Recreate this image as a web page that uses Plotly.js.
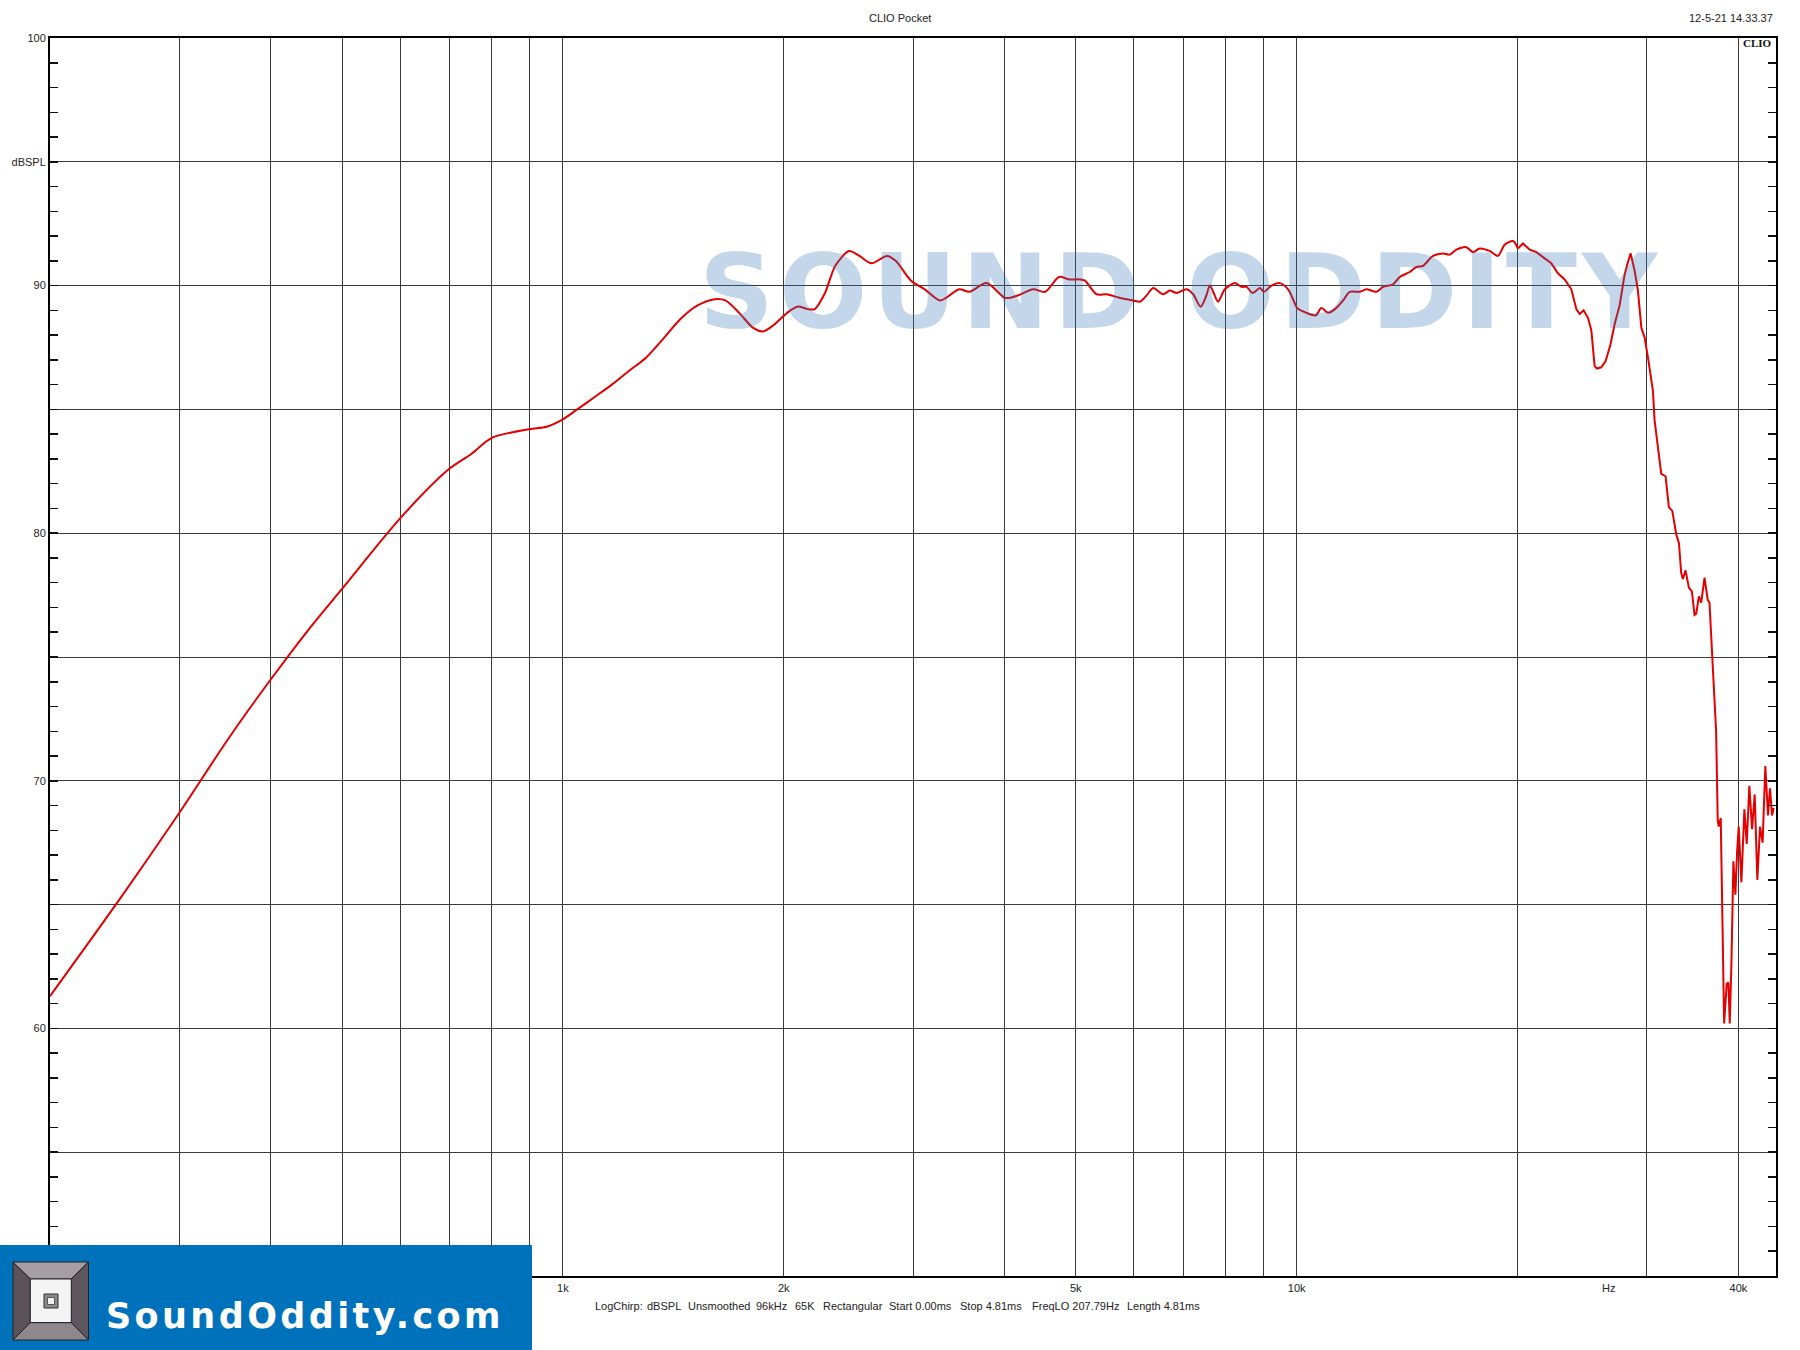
<!DOCTYPE html>
<html>
<head>
<meta charset="utf-8">
<script src="https://cdn.plot.ly/plotly-3.0.1.min.js"></script>
<style>
html,body{margin:0;padding:0;background:#fff;}
#chart{width:1800px;height:1350px;}
#chart .gridlayer path{shape-rendering:crispEdges !important;}
</style>
</head>
<body>
<div id="chart"></div>
<script>
// ---------------- data ----------------
const freqHz = [
 200,250,300,350,400,450,500,600,700,750,
 800,900,950,1000,1046,1105,1166,1230,1299,1370,
 1446,1526,1611,1665,1739,1815,1874,1936,2021,2087,
 2157,2204,2276,2351,2455,2536,2633,2765,2841,2982,
 3113,3268,3467,3581,3779,4011,4167,4374,4542,4743,
 4898,5066,5145,5338,5508,5745,5987,6114,6243,6374,
 6577,6717,6860,7079,7227,7396,7521,7615,7696,7815,
 7982,8236,8411,8544,8707,8908,9021,9240,9485,9735,
 9888,10013,10311,10617,10807,11036,11330,11568,11813,12190,
 12445,12843,13114,13532,13818,14257,14559,14866,15339,15828,
 16163,16506,17031,17390,17758,18323,18806,19204,19713,20026,
 20342,20773,21214,21660,22233,22699,23186,23677,24051,24302,
 24606,24943,25208,25471,25654,26010,26366,26758,27124,27548,
 27989,28281,28517,28880,29180,29491,29798,30109,30584,30746,
 31066,31394,31823,32155,32497,32910,33185,33420,33595,33880,
 34236,34560,34850,35035,35326,35587,35957,36330,36522,36831,
 37095,37290,37480,37600,37835,38000,38240,38554,38760,38920,
 39126,39370,39616,39830,40032,40367,40750,41050,41390,41745,
 42090,42440,42800,43150,43520,43880,44160,44440,44665
];
const splDb = [
 61.3,65.3,68.7,71.7,74.1,76.1,77.75,80.6,82.6,83.2,
 83.85,84.2,84.3,84.6,85.0,85.5,86.0,86.55,87.1,87.85,
 88.65,89.2,89.45,89.4,88.9,88.3,88.15,88.4,88.9,89.15,
 89.05,89.05,89.7,90.8,91.4,91.2,90.9,91.2,91.0,90.2,
 89.85,89.4,89.85,89.75,90.1,89.5,89.6,89.85,89.75,90.35,
 90.25,90.25,90.2,89.65,89.65,89.5,89.4,89.35,89.6,89.9,
 89.65,89.8,89.7,89.85,89.65,89.15,89.55,90.0,89.75,89.35,
 89.85,90.1,89.95,89.95,89.7,89.9,89.75,90.0,90.1,89.85,
 89.45,89.1,88.9,88.8,89.1,88.9,89.1,89.4,89.75,89.75,
 89.85,89.75,89.95,90.05,90.35,90.55,90.75,90.8,91.2,91.3,
 91.25,91.45,91.55,91.35,91.5,91.4,91.2,91.65,91.8,91.5,
 91.7,91.45,91.35,91.15,90.9,90.5,90.25,89.85,89.05,88.85,
 89.0,88.7,88.2,86.75,86.65,86.7,86.95,87.6,88.45,89.2,
 90.45,90.95,91.3,90.6,89.8,88.3,87.9,87.1,85.75,84.55,
 83.45,82.4,82.3,81.05,80.9,79.95,79.6,78.4,78.15,78.5,
 77.8,77.65,76.7,76.75,77.45,77.2,78.2,77.3,77.2,75.1,
 73.2,72.0,68.4,68.15,68.5,65.15,60.2,61.8,61.85,60.2,
 62.6,66.75,65.4,67.15,68.15,65.9,68.85,67.45,69.8,68.05,
 69.45,66.0,68.15,67.5,70.6,68.6,69.7,68.6,68.9
];
const xGridFreqs = [300,400,500,600,700,800,900,1000,2000,3000,4000,5000,6000,7000,8000,9000,10000,20000,30000,40000];
const xTickLabels = ['','','','','','','','1k','2k','','','5k','','','','','10k','','','40k'];
const yGridVals = [55,60,65,70,75,80,85,90,95,100];
const yTickLabels = ['','60','','70','','80','','90','dBSPL','100'];
const xUnitLabel = 'Hz';
const chartTitle = 'CLIO Pocket';
const dateStamp = '12-5-21 14.33.37';
const brandTag = 'CLIO';
const watermarkText = 'SOUND ODDITY';
const siteText = 'SoundOddity.com';
const infoItems = ['LogChirp:','dBSPL','Unsmoothed','96kHz','65K','Rectangular','Start 0.00ms','Stop 4.81ms','FreqLO 207.79Hz','Length 4.81ms'];

// ---------------- layout helpers ----------------
const L = 50, R = 1776, T = 38, B = 1276;
const W = R - L, H = B - T;
const px = x => (x - L) / W;
const py = y => (B - y) / H;
const FONT = 'Liberation Sans, Arial, sans-serif';
const infoX = [593, 645, 686, 754, 793, 821, 887, 958, 1030, 1125];

// smooth part (up to ~20 kHz) drawn as spline, the ragged top end as straight segments
const splitIdx = freqHz.indexOf(20026);
const lineStyle = {color: '#e40000', width: 2};
const traceSmooth = {
  type: 'scatter', mode: 'lines',
  x: freqHz.slice(0, splitIdx + 1), y: splDb.slice(0, splitIdx + 1),
  line: Object.assign({shape: 'spline', smoothing: 0.8}, lineStyle),
  hoverinfo: 'skip'
};
const traceRagged = {
  type: 'scatter', mode: 'lines',
  x: freqHz.slice(splitIdx), y: splDb.slice(splitIdx),
  line: Object.assign({shape: 'linear'}, lineStyle),
  hoverinfo: 'skip'
};

function poly(pts) {
  return 'M ' + pts.map(p => px(p[0]) + ',' + py(p[1])).join(' L ') + ' Z';
}
const ox0 = 13, ox1 = 88.5, oy0 = 1262, oy1 = 1340;
const ix0 = 30.3, ix1 = 71.3, iy0 = 1279, iy1 = 1322.6;
const shapes = [
  {type:'rect', xref:'paper', yref:'paper', x0:px(0), x1:px(532), y0:py(1350), y1:py(1245), fillcolor:'#0071bb', line:{width:0}, layer:'above'},
  {type:'path', xref:'paper', yref:'paper', path: poly([[ox0,oy0],[ox1,oy0],[ix1,iy0],[ix0,iy0]]), fillcolor:'#a59ea4', line:{color:'#222', width:1}, layer:'above'},
  {type:'path', xref:'paper', yref:'paper', path: poly([[ox0,oy0],[ix0,iy0],[ix0,iy1],[ox0,oy1]]), fillcolor:'#5b5359', line:{color:'#222', width:1}, layer:'above'},
  {type:'path', xref:'paper', yref:'paper', path: poly([[ox1,oy0],[ox1,oy1],[ix1,iy1],[ix1,iy0]]), fillcolor:'#5e565c', line:{color:'#222', width:1}, layer:'above'},
  {type:'path', xref:'paper', yref:'paper', path: poly([[ox0,oy1],[ix0,iy1],[ix1,iy1],[ox1,oy1]]), fillcolor:'#8f878e', line:{color:'#222', width:1}, layer:'above'},
  {type:'rect', xref:'paper', yref:'paper', x0:px(ix0), x1:px(ix1), y0:py(iy1), y1:py(iy0), fillcolor:'#f4f4f4', line:{color:'#222', width:1}, layer:'above'},
  {type:'rect', xref:'paper', yref:'paper', x0:px(44), x1:px(58), y0:py(1308), y1:py(1294), fillcolor:'#8a8a8a', line:{color:'#333', width:1}, layer:'above'},
  {type:'rect', xref:'paper', yref:'paper', x0:px(47.5), x1:px(54.5), y0:py(1304.5), y1:py(1297.5), fillcolor:'#f0f0f0', line:{color:'#555', width:1}, layer:'above'}
];

const annotations = [
  {xref:'paper', yref:'paper', x:px(900), y:py(18), text:chartTitle, showarrow:false, xanchor:'center', yanchor:'middle', font:{family:FONT, size:11, color:'#222'}},
  {xref:'paper', yref:'paper', x:px(1775), y:py(18), text:dateStamp, showarrow:false, xanchor:'right', yanchor:'middle', font:{family:FONT, size:11, color:'#222'}},
  {xref:'paper', yref:'paper', x:px(1774), y:py(43), text:'<b>' + brandTag + '</b>', showarrow:false, xanchor:'right', yanchor:'middle', font:{family:'Liberation Serif, Times New Roman, serif', size:11, color:'#111'}},
  {xref:'paper', yref:'paper', x:px(1608), y:py(1288), text:xUnitLabel, showarrow:false, xanchor:'center', yanchor:'middle', font:{family:FONT, size:11, color:'#222'}},
  {xref:'paper', yref:'paper', x:px(1181), y:py(292), text:'<b>' + watermarkText + '</b>', showarrow:false, xanchor:'center', yanchor:'middle', font:{family:'DejaVu Sans, sans-serif', size:104, color:'rgba(48,112,184,0.29)'}},
  {xref:'paper', yref:'paper', x:px(104), y:py(1316), text:'<b>' + siteText + '</b>', showarrow:false, xanchor:'left', yanchor:'middle', align:'left', font:{family:'DejaVu Sans, sans-serif', size:35, color:'#ffffff'}}
];
infoItems.forEach((s, i) => annotations.push({xref:'paper', yref:'paper', x:px(infoX[i]), y:py(1306), text:s, showarrow:false, xanchor:'left', yanchor:'middle', align:'left', font:{family:FONT, size:11, color:'#222'}}));

const layout = {
  width: 1800, height: 1350,
  margin: {l: L, r: 1800 - R, t: T, b: 1350 - B, pad: 0},
  paper_bgcolor: '#ffffff', plot_bgcolor: '#ffffff',
  showlegend: false,
  xaxis: {
    type: 'log', range: [Math.log10(200), Math.log10(45000)],
    tickmode: 'array', tickvals: xGridFreqs, ticktext: xTickLabels,
    showgrid: true, gridcolor: '#3a3a3a', gridwidth: 1,
    ticks: '', showline: true, linecolor: '#000', linewidth: 2, mirror: true,
    zeroline: false, tickfont: {family: FONT, size: 11, color: '#222'}, ticklabelstandoff: 1
  },
  yaxis: {
    range: [50, 100],
    tickmode: 'array', tickvals: yGridVals, ticktext: yTickLabels,
    showgrid: true, gridcolor: '#3a3a3a', gridwidth: 1,
    ticks: 'inside', ticklen: 8, tickwidth: 1.5, tickcolor: '#111',
    minor: {dtick: 1, tick0: 0, ticks: 'inside', ticklen: 8, tickwidth: 1.5, tickcolor: '#111', showgrid: false},
    showline: true, linecolor: '#000', linewidth: 2, mirror: 'ticks',
    zeroline: false, tickfont: {family: FONT, size: 11, color: '#222'}
  },
  shapes: shapes,
  annotations: annotations
};

Plotly.newPlot('chart', [traceSmooth, traceRagged], layout, {staticPlot: true, displayModeBar: false}).then(() => {
  document.querySelectorAll('text.annotation-text').forEach(t => {
    const s = t.textContent;
    if (s === watermarkText) t.setAttribute('letter-spacing', '5px');
    if (s === siteText) t.setAttribute('letter-spacing', '3.4px');
  });
});
</script>
</body>
</html>
